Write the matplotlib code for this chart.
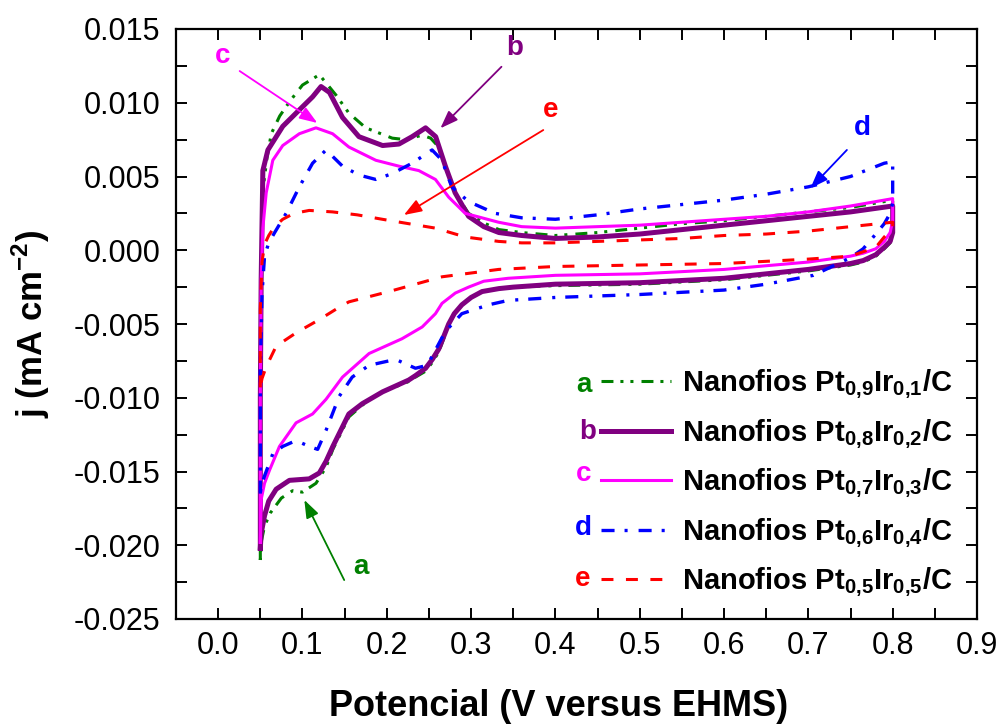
import matplotlib
matplotlib.use("Agg")
import matplotlib.pyplot as plt
from matplotlib.ticker import MultipleLocator, FormatStrFormatter

plt.rcParams['font.family'] = ['Liberation Sans', 'DejaVu Sans']
plt.rcParams['mathtext.fontset'] = 'custom'
plt.rcParams['mathtext.rm'] = 'Liberation Sans'
plt.rcParams['mathtext.bf'] = 'Liberation Sans:bold'
plt.rcParams['axes.unicode_minus'] = False
plt.rcParams['lines.scale_dashes'] = False

# ---------------- data ----------------
# a : Pt0.9Ir0.1
a_up_x = [0.05, 0.05, 0.051, 0.054, 0.058, 0.063, 0.073, 0.085, 0.100, 0.120, 0.140, 0.155, 0.175,
          0.2065, 0.222, 0.242, 0.252, 0.260, 0.270, 0.281, 0.297, 0.317, 0.333, 0.36, 0.40, 0.45,
          0.50, 0.55, 0.60, 0.65, 0.70, 0.75, 0.80]
a_up_y = [-0.0210, -0.010, -0.002, 0.0045, 0.0063, 0.0079, 0.0091, 0.0101, 0.0112, 0.0119, 0.0105,
          0.0093, 0.0083, 0.0076, 0.0075, 0.0078, 0.0076, 0.0071, 0.0056, 0.0039, 0.0025, 0.0018,
          0.0014, 0.0012, 0.0010, 0.0012, 0.0015, 0.0018, 0.0020, 0.0023, 0.0026, 0.0029, 0.0034]
a_dn_x = [0.80, 0.80, 0.797, 0.79, 0.78, 0.765, 0.75, 0.70, 0.60, 0.50, 0.40, 0.35, 0.333, 0.313,
          0.300, 0.289, 0.280, 0.2734, 0.2616, 0.254, 0.246, 0.234, 0.226, 0.195, 0.183, 0.171,
          0.155, 0.136, 0.128, 0.116, 0.100, 0.0884, 0.075, 0.062, 0.055, 0.051, 0.05]
a_dn_y = [0.0034, 0.0012, 0.0005, 0.0001, -0.0004, -0.0008, -0.0010, -0.0014, -0.0020, -0.0023,
          -0.0024, -0.0025, -0.0026, -0.0028, -0.0032, -0.0037, -0.0043, -0.0051, -0.0069, -0.0076,
          -0.0082, -0.0086, -0.0089, -0.0096, -0.0100, -0.0105, -0.0113, -0.0135, -0.0147, -0.0158,
          -0.0164, -0.0163, -0.0168, -0.0178, -0.0187, -0.0198, -0.0210]

# b : Pt0.8Ir0.2
b_up_x = [0.05, 0.05, 0.051, 0.053, 0.059, 0.0766, 0.096, 0.112, 0.122, 0.132, 0.1475, 0.167, 0.195,
          0.2144, 0.230, 0.246, 0.258, 0.2695, 0.281, 0.297, 0.315, 0.333, 0.36, 0.40, 0.45, 0.50,
          0.55, 0.60, 0.65, 0.70, 0.75, 0.80]
b_up_y = [-0.0202, -0.010, -0.002, 0.0054, 0.0068, 0.0084, 0.0095, 0.0104, 0.0111, 0.0107, 0.0090,
          0.0077, 0.0071, 0.0072, 0.0077, 0.0083, 0.0077, 0.0057, 0.0039, 0.0023, 0.0016, 0.0012,
          0.0010, 0.0008, 0.0009, 0.0011, 0.0014, 0.0017, 0.0020, 0.0023, 0.0026, 0.0030]
b_dn_x = [0.80, 0.80, 0.797, 0.79, 0.78, 0.765, 0.75, 0.70, 0.60, 0.50, 0.40, 0.35, 0.333, 0.313,
          0.300, 0.289, 0.280, 0.2734, 0.2616, 0.254, 0.246, 0.234, 0.226, 0.195, 0.183, 0.171,
          0.155, 0.136, 0.128, 0.120, 0.108, 0.0845, 0.0688, 0.060, 0.055, 0.051, 0.05]
b_dn_y = [0.0030, 0.0012, 0.0006, 0.0002, -0.0003, -0.0007, -0.0009, -0.0013, -0.0019, -0.0022,
          -0.0023, -0.0025, -0.0026, -0.0028, -0.0032, -0.0037, -0.0043, -0.0050, -0.0067, -0.0074,
          -0.0080, -0.0085, -0.0088, -0.0096, -0.0100, -0.0104, -0.0111, -0.0133, -0.0143, -0.0151,
          -0.0155, -0.0156, -0.0162, -0.0170, -0.0180, -0.0192, -0.0202]

# c : Pt0.7Ir0.3
c_up_x = [0.05, 0.05, 0.051, 0.053, 0.057, 0.0648, 0.0766, 0.0963, 0.116, 0.1357, 0.155, 0.187,
          0.2144, 0.238, 0.2577, 0.2734, 0.293, 0.3325, 0.36, 0.40, 0.45, 0.50, 0.55, 0.60, 0.65,
          0.70, 0.75, 0.80]
c_up_y = [-0.0198, -0.010, -0.002, 0.0015, 0.0039, 0.0061, 0.0071, 0.0079, 0.0083, 0.0079, 0.0070,
          0.0061, 0.0057, 0.0054, 0.0048, 0.0036, 0.0025, 0.0019, 0.0016, 0.0015, 0.0016, 0.0017,
          0.0019, 0.0021, 0.0023, 0.0026, 0.0030, 0.0035]
c_dn_x = [0.80, 0.80, 0.797, 0.79, 0.78, 0.765, 0.75, 0.70, 0.60, 0.50, 0.40, 0.344, 0.315, 0.297,
          0.2813, 0.2655, 0.2577, 0.242, 0.218, 0.179, 0.1475, 0.1397, 0.128, 0.112, 0.0924, 0.0727,
          0.061, 0.055, 0.051, 0.05]
c_dn_y = [0.0035, 0.0020, 0.0012, 0.0006, 0.0001, -0.0002, -0.0004, -0.0008, -0.0013, -0.0016,
          -0.0017, -0.0019, -0.0021, -0.0025, -0.0029, -0.0036, -0.0043, -0.0052, -0.0060, -0.0070,
          -0.0086, -0.0092, -0.0101, -0.0111, -0.0117, -0.0133, -0.0149, -0.0158, -0.0169, -0.0198]

# d : Pt0.6Ir0.4
d_up_x = [0.05, 0.05, 0.052, 0.055, 0.060, 0.067, 0.0806, 0.0963, 0.112, 0.128, 0.1475, 0.167,
          0.187, 0.2065, 0.230, 0.2537, 0.2655, 0.277, 0.297, 0.3286, 0.36, 0.40, 0.45, 0.50, 0.55,
          0.60, 0.65, 0.70, 0.75, 0.79, 0.80]
d_up_y = [-0.0165, -0.008, -0.003, -0.0004, 0.0005, 0.0012, 0.0025, 0.0043, 0.0059, 0.0068, 0.0057,
          0.0051, 0.0048, 0.0052, 0.0059, 0.0068, 0.0061, 0.0043, 0.0033, 0.0025, 0.0022, 0.0021,
          0.0024, 0.0028, 0.0031, 0.0034, 0.0038, 0.0043, 0.0050, 0.0059, 0.0060]
d_dn_x = [0.80, 0.80, 0.797, 0.79, 0.78, 0.765, 0.75, 0.706, 0.65, 0.60, 0.50, 0.40, 0.344, 0.3207,
          0.289, 0.2695, 0.248, 0.234, 0.2105, 0.179, 0.159, 0.1436, 0.128, 0.118, 0.108, 0.0924,
          0.0766, 0.0648, 0.055, 0.051, 0.05]
d_dn_y = [0.0060, 0.0032, 0.0025, 0.0018, 0.0011, 0.0001, -0.0005, -0.0017, -0.0023, -0.0027,
          -0.0030, -0.0032, -0.0034, -0.0037, -0.0043, -0.0055, -0.0078, -0.0080, -0.0074, -0.0078,
          -0.0086, -0.0099, -0.0122, -0.0135, -0.0133, -0.0129, -0.0133, -0.0138, -0.0153, -0.0160,
          -0.0165]

# e : Pt0.5Ir0.5
e_up_x = [0.05, 0.05, 0.052, 0.055, 0.060, 0.0668, 0.0766, 0.090, 0.108, 0.1357, 0.165, 0.1947,
          0.226, 0.2577, 0.293, 0.3325, 0.36, 0.40, 0.45, 0.50, 0.55, 0.60, 0.65, 0.70, 0.75, 0.80]
e_up_y = [-0.0093, -0.004, -0.0008, 0.0004, 0.0010, 0.0016, 0.0021, 0.0025, 0.0027, 0.0026, 0.0024,
          0.0021, 0.0018, 0.0015, 0.0009, 0.0006, 0.0005, 0.0005, 0.0006, 0.0007, 0.0008, 0.0010,
          0.0011, 0.0013, 0.0016, 0.0019]
e_dn_x = [0.80, 0.80, 0.797, 0.79, 0.78, 0.75, 0.70, 0.60, 0.50, 0.40, 0.3325, 0.2655, 0.2026,
          0.155, 0.1397, 0.120, 0.0924, 0.0688, 0.057, 0.052, 0.05]
e_dn_y = [0.0019, 0.0016, 0.0013, 0.0009, 0.0002, -0.0004, -0.0006, -0.0009, -0.0010, -0.0011,
          -0.0013, -0.0018, -0.0028, -0.0035, -0.0040, -0.0047, -0.0056, -0.0065, -0.0079, -0.0087,
          -0.0093]

letters = ['a', 'b', 'c', 'd', 'e']
compositions = [('0,9', '0,1'), ('0,8', '0,2'), ('0,7', '0,3'), ('0,6', '0,4'), ('0,5', '0,5')]
x_ticks = [0.0, 0.1, 0.2, 0.3, 0.4, 0.5, 0.6, 0.7, 0.8, 0.9]
y_ticks = [-0.025, -0.020, -0.015, -0.010, -0.005, 0.000, 0.005, 0.010, 0.015]

# ---------------- styling ----------------
colors = ['#008000', '#800080', '#FF00FF', '#0000FF', '#FF0000']
widths = [2.2, 3.6, 2.2, 2.4, 2.2]
dashes = [(0, (8.6, 5, 2.2, 5, 2.2, 5.8)), '-', '-', (0, (9.4, 7.2, 2.2, 7.9)), (0, (8.6, 9.0))]

series = [
    (a_up_x + a_dn_x, a_up_y + a_dn_y),
    (b_up_x + b_dn_x, b_up_y + b_dn_y),
    (c_up_x + c_dn_x, c_up_y + c_dn_y),
    (d_up_x + d_dn_x, d_up_y + d_dn_y),
    (e_up_x + e_dn_x, e_up_y + e_dn_y),
]

fig = plt.figure(figsize=(9.99, 7.27), dpi=100)
ax = fig.add_axes([176 / 999, 1 - 619 / 727, 801 / 999, 590 / 727])

handles = []
for (xs, ys), col, lw, ls, comp in zip(series, colors, widths, dashes, compositions):
    lab = (r'Nanofios Pt$_{\mathbf{' + comp[0].replace(',', '{,}') + r'}}$Ir$_{\mathbf{'
           + comp[1].replace(',', '{,}') + r'}}$/C')
    h, = ax.plot(xs, ys, color=col, lw=lw, linestyle=ls, label=lab,
                 solid_joinstyle='round', dash_capstyle='butt')
    handles.append(h)

ax.set_xlim(-0.05, 0.9)
ax.set_ylim(-0.025, 0.015)
ax.set_xticks(x_ticks)
ax.set_yticks(y_ticks)
ax.xaxis.set_minor_locator(MultipleLocator(0.05))
ax.yaxis.set_minor_locator(MultipleLocator(0.0025))
ax.xaxis.set_major_formatter(FormatStrFormatter('%.1f'))
ax.yaxis.set_major_formatter(FormatStrFormatter('%.3f'))
ax.tick_params(which='both', direction='in', top=True, right=True, length=8, width=1.4)
ax.tick_params(axis='x', labelsize=22, pad=9)
ax.tick_params(axis='y', labelsize=22, pad=11)
for sp in ax.spines.values():
    sp.set_linewidth(1.6)

ax.set_xlabel('Potencial (V versus EHMS)', fontsize=26, fontweight='bold')
ax.xaxis.set_label_coords(0.478, -0.164)
ax.xaxis.label.set_va('baseline')
ax.set_ylabel(r'j (mA cm$^{\mathbf{-2}}$)', fontsize=25, fontweight='bold')
ax.yaxis.set_label_coords(-0.155, 0.5)

leg = ax.legend(handles=handles, loc='upper left', bbox_to_anchor=(0.531, 0.426),
                frameon=False, prop={'weight': 'bold', 'size': 21}, handlelength=2.4,
                handletextpad=0.35, labelspacing=0.56, borderpad=0, borderaxespad=0)

letter_pos = [(0.509, 0.397), (0.514, 0.317), (0.509, 0.245), (0.508, 0.155), (0.508, 0.068)]
for (lx, ly), let, col in zip(letter_pos, letters, colors):
    ax.text(lx, ly, let, transform=ax.transAxes, color=col, fontsize=20, fontweight='bold',
            ha='center', va='center')

# annotations with arrows
ann = [
    ('c', (0.0054, 0.01317), (0.0255, 0.01215), (0.1176, 0.00863), colors[2]),
    ('b', (0.3513, 0.01371), (0.336, 0.01244), (0.2636, 0.00827), colors[1]),
    ('e', (0.3948, 0.00951), (0.3856, 0.00815), (0.2203, 0.00239), colors[4]),
    ('d', (0.7646, 0.00829), (0.7457, 0.0068), (0.7024, 0.0042), colors[3]),
    ('a', (0.1698, -0.02148), (0.1495, -0.02236), (0.1022, -0.01693), colors[0]),
]
for let, tpos, tail, head, col in ann:
    ax.text(tpos[0], tpos[1], let, color=col, fontsize=20, fontweight='bold',
            ha='center', va='center')
    ax.annotate('', xy=head, xytext=tail,
                arrowprops=dict(arrowstyle='-|>,head_length=0.6,head_width=0.22', color=col,
                                lw=1.3, mutation_scale=18, shrinkA=0, shrinkB=0))

fig.savefig('out.png', dpi=100)
